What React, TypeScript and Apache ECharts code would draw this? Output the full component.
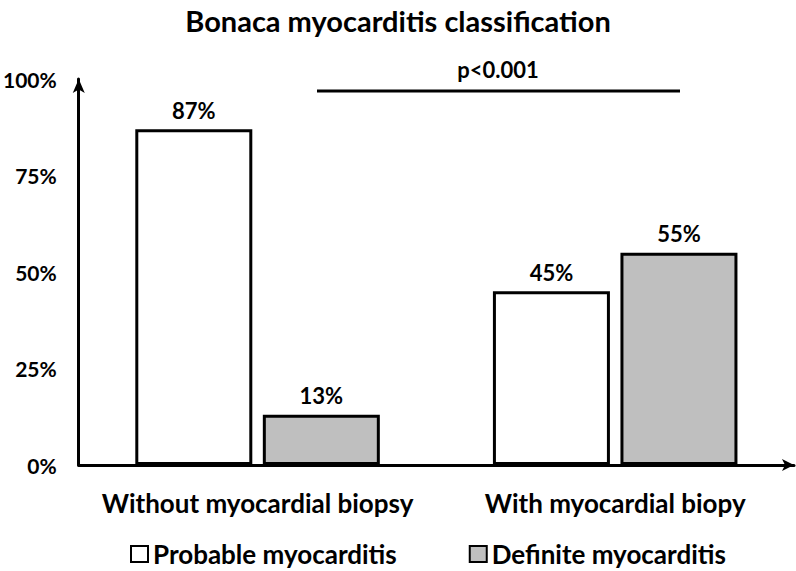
import React, { useEffect, useRef } from "react";
import * as echarts from "echarts";

const categories = ["Without myocardial biopsy", "With myocardial biopy"];
const probable = [87, 45];
const definite = [13, 55];
const yTicks = [0, 25, 50, 75, 100];
const titleText = "Bonaca myocarditis classification";
const pText = "p<0.001";

const FONT = "Lato";

export default function App() {
  const ref = useRef<HTMLDivElement>(null);
  useEffect(() => {
    document.body.style.margin = "0";
    const chart = echarts.init(ref.current!, null, { renderer: "svg" });
    const labelStyle = {
      show: true,
      position: "top" as const,
      formatter: (p: any) => `${p.value}%`,
      fontFamily: FONT,
      fontWeight: "bold" as const,
      fontSize: 22,
      color: "#000",
      distance: 8,
    };
    chart.setOption({
      animation: false,
      backgroundColor: "#fff",
      title: {
        text: titleText,
        left: "center",
        top: 1,
        textStyle: { fontFamily: FONT, fontWeight: "bold", fontSize: 29, color: "#000" },
      },
      grid: { left: 72, right: 2, top: 79, bottom: 106, containLabel: false },
      legend: {
        top: 536,
        left: 125,
        padding: 5,
        itemGap: 72,
        itemWidth: 17,
        itemHeight: 16,
        icon: "rect",
        textStyle: { fontFamily: FONT, fontWeight: "bold", fontSize: 26, color: "#000" },
        data: ["Probable myocarditis", "Definite myocarditis"],
      },
      xAxis: {
        type: "category",
        data: categories,
        axisLine: {
          lineStyle: { color: "#000", width: 3 },
          symbol: ["none", "arrow"],
          symbolSize: [9, 12],
        },
        axisTick: { show: false },
        axisLabel: {
          interval: 0,
          fontFamily: FONT,
          fontWeight: "bold",
          fontSize: 26,
          color: "#000",
          margin: 25,
        },
      },
      yAxis: {
        type: "value",
        min: 0,
        max: 100,
        interval: 25,
        axisLine: {
          show: true,
          lineStyle: { color: "#000", width: 3 },
          symbol: ["none", "arrow"],
          symbolSize: [9, 14],
        },
        splitLine: { show: false },
        axisTick: { show: false },
        axisLabel: {
          fontFamily: FONT,
          fontWeight: "bold",
          fontSize: 21,
          color: "#000",
          margin: 22,
          formatter: (v: number) => (yTicks.includes(v) ? `${v}%` : ""),
        },
      },
      series: [
        {
          name: "Probable myocarditis",
          type: "bar",
          data: probable,
          barWidth: 117,
          barGap: "9%",
          itemStyle: { color: "#ffffff", borderColor: "#000", borderWidth: 3 },
          label: labelStyle,
        },
        {
          name: "Definite myocarditis",
          type: "bar",
          data: definite,
          barWidth: 117,
          barGap: "9%",
          itemStyle: { color: "#bfbfbf", borderColor: "#000", borderWidth: 3 },
          label: labelStyle,
        },
      ],
      graphic: [
        {
          type: "line",
          shape: { x1: 317, y1: 91, x2: 680, y2: 91 },
          style: { stroke: "#000", lineWidth: 3 },
        },
        {
          type: "text",
          x: 498,
          y: 69,
          style: {
            text: pText,
            fontFamily: FONT,
            fontWeight: "bold",
            fontSize: 22,
            fill: "#000",
            align: "center",
            verticalAlign: "middle",
          },
        },
      ],
    });
    return () => chart.dispose();
  }, []);
  return (
    <div
      ref={ref}
      style={{ position: "absolute", left: 0, top: 0, width: 796, height: 571 }}
    />
  );
}
